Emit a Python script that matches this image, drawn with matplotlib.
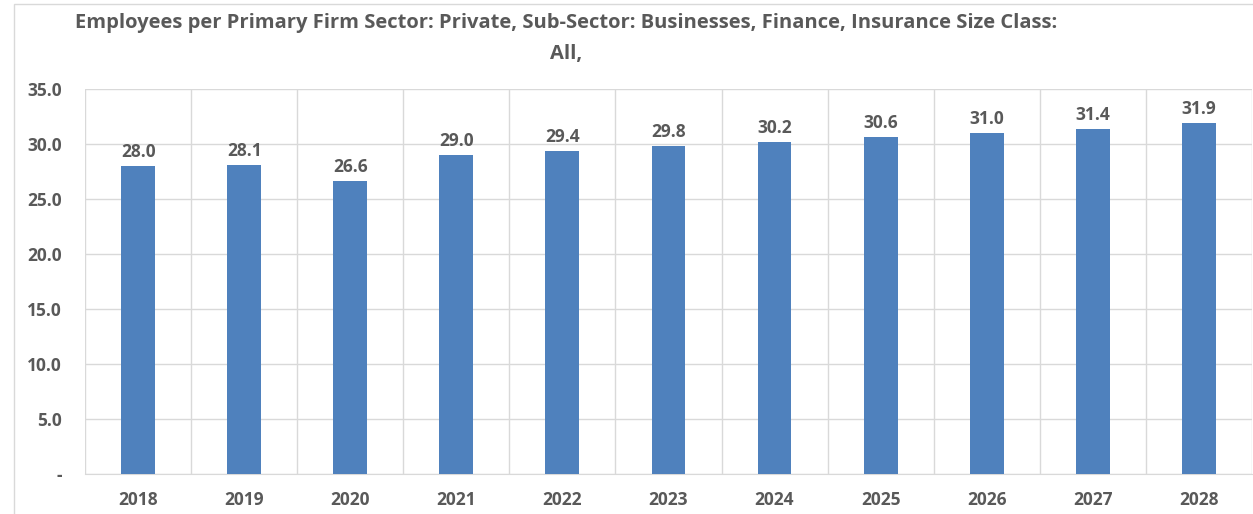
import matplotlib

matplotlib.use("Agg")
import matplotlib.pyplot as plt
from matplotlib.patches import Rectangle

# Values
years = ["2018", "2019", "2020", "2021", "2022", "2023", "2024", "2025", "2026", "2027", "2028"]
employees = [28.0, 28.1, 26.6, 29.0, 29.4, 29.8, 30.2, 30.6, 31.0, 31.4, 31.9]
y_ticks = [0, 5, 10, 15, 20, 25, 30, 35]
y_tick_labels = ["-", "5.0", "10.0", "15.0", "20.0", "25.0", "30.0", "35.0"]

TITLE = ("Employees per Primary Firm Sector: Private, Sub-Sector: Businesses, "
         "Finance, Insurance Size Class:\nAll,")

BAR_COLOR = "#4f81bd"
TEXT_COLOR = "#595959"
GRID_COLOR = "#d9d9d9"

plt.rcParams["font.family"] = ["Open Sans", "DejaVu Sans"]

fig = plt.figure(figsize=(12.53, 5.14), dpi=100)
ax = fig.add_axes([0.068, 0.078, 0.931, 0.749])

x = range(len(years))
ax.bar(x, employees, width=0.32, color=BAR_COLOR, zorder=3)
for xi, v in zip(x, employees):
    ax.text(xi, v + 0.45, f"{v:.1f}", ha="center", va="bottom",
            fontsize=12.5, fontweight="bold", color=TEXT_COLOR)

ax.set_xlim(-0.5, len(years) - 0.5)
ax.set_ylim(0, 35)
ax.set_xticks(list(x))
ax.set_xticklabels(years)
ax.set_yticks(y_ticks)
ax.set_yticklabels(y_tick_labels)

# vertical gridlines sit between the categories
ax.set_xticks([i + 0.5 for i in range(-1, len(years))], minor=True)
ax.grid(True, axis="y", color=GRID_COLOR, linewidth=1, zorder=0)
ax.grid(True, axis="x", which="minor", color=GRID_COLOR, linewidth=1, zorder=0)
ax.tick_params(axis="both", which="both", length=0, labelsize=12.5,
               labelcolor=TEXT_COLOR, pad=12)
for lbl in ax.get_xticklabels() + ax.get_yticklabels():
    lbl.set_fontweight("bold")
ax.tick_params(axis="y", pad=17)
for side in ["top", "right", "left"]:
    ax.spines[side].set_visible(False)
ax.spines["bottom"].set_color(GRID_COLOR)

fig.text(0.452, 0.975, TITLE, ha="center", va="top", fontsize=14.5,
         fontweight="bold", color=TEXT_COLOR, linespacing=1.75)

# light chart-area border
fig.patches.append(Rectangle((0.011, -0.02), 1.1, 1.013, transform=fig.transFigure,
                             fill=False, edgecolor=GRID_COLOR, linewidth=1))

fig.savefig("out.png", dpi=100)
